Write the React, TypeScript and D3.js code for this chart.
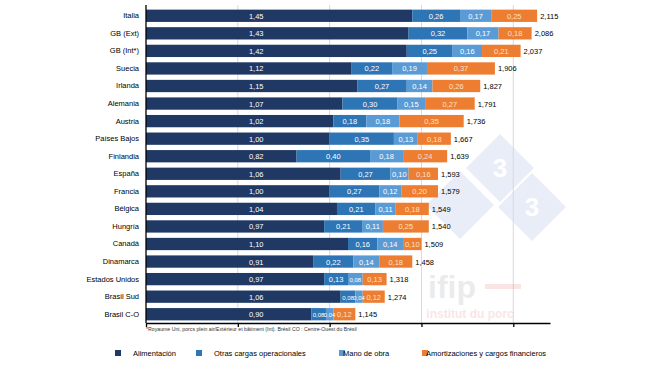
import * as d3 from "d3";
import { useEffect, useRef } from "react";

const countries = [
  "Italia", "GB (Ext)", "GB (Int*)", "Suecia", "Irlanda", "Alemania", "Austria",
  "Países Bajos", "Finlandia", "España", "Francia", "Bélgica", "Hungría", "Canadá",
  "Dinamarca", "Estados Unidos", "Brasil Sud", "Brasil C-O",
];
const alimentacion = [1.45, 1.43, 1.42, 1.12, 1.15, 1.07, 1.02, 1.0, 0.82, 1.06, 1.0, 1.04, 0.97, 1.1, 0.91, 0.97, 1.06, 0.9];
const otrasCargas = [0.26, 0.32, 0.25, 0.22, 0.27, 0.3, 0.18, 0.35, 0.4, 0.27, 0.27, 0.21, 0.21, 0.16, 0.22, 0.13, 0.08, 0.08];
const manoObra = [0.17, 0.17, 0.16, 0.19, 0.14, 0.15, 0.18, 0.13, 0.18, 0.1, 0.12, 0.11, 0.11, 0.14, 0.14, 0.08, 0.04, 0.04];
const amortizaciones = [0.25, 0.18, 0.21, 0.37, 0.26, 0.27, 0.35, 0.18, 0.24, 0.16, 0.2, 0.18, 0.25, 0.1, 0.18, 0.13, 0.12, 0.12];
const totals = [2.115, 2.086, 2.037, 1.906, 1.827, 1.791, 1.736, 1.667, 1.639, 1.593, 1.579, 1.549, 1.54, 1.509, 1.458, 1.318, 1.274, 1.145];
const seriesNames = ["Alimentación", "Otras cargas operacionales", "Mano de obra", "Amortizaciones y cargos financieros"];
const colors = ["#1f3864", "#2e75b6", "#5b9bd5", "#ed7d31"];
const xTicks = [0, 0.5, 1, 1.5, 2];

const FONT = "'Liberation Sans', Arial, sans-serif";

export default function App() {
  const ref = useRef<SVGSVGElement>(null);

  useEffect(() => {
    const svg = d3.select(ref.current);
    svg.selectAll("*").remove();

    const x = d3.scaleLinear().domain([0, 2.2]).range([146, 550]);
    const y = d3.scaleBand().domain(countries).range([7, 323]).paddingInner(0.3).paddingOuter(0.15);
    const comma = (v: number, d: number) => v.toFixed(d).replace(".", ",");

    // watermark (pale logo behind the chart)
    const wm = svg.append("g").attr("opacity", 0.2);
    [[460, 205, false], [500, 168, true], [532, 207, true]].forEach(([cx, cy, label]) => {
      wm.append("rect")
        .attr("x", +cx - 24).attr("y", +cy - 24).attr("width", 48).attr("height", 48)
        .attr("transform", `rotate(45 ${cx} ${cy})`)
        .attr("fill", "#8faadc");
      if (label)
        wm.append("text").attr("x", +cx).attr("y", +cy + 9).attr("text-anchor", "middle")
          .attr("font-family", FONT).attr("font-weight", "bold").attr("font-size", 26)
          .attr("fill", "#fff").text("3");
    });

    // gridlines
    svg.append("g").selectAll("line").data(xTicks.slice(1)).join("line")
      .attr("x1", (d) => x(d)).attr("x2", (d) => x(d))
      .attr("y1", 5).attr("y2", 323)
      .attr("stroke", "#d9d9d9").attr("stroke-width", 1);

    const wm2 = svg.append("g").attr("opacity", 0.22);
    wm2.append("text").attr("x", 452).attr("y", 298).attr("text-anchor", "middle")
      .attr("font-family", FONT).attr("font-weight", "bold").attr("font-size", 32)
      .attr("fill", "#a6a6a6").text("ifip");
    wm2.append("rect").attr("x", 485).attr("y", 284).attr("width", 36).attr("height", 5).attr("fill", "#e98a8a");
    wm2.append("text").attr("x", 470).attr("y", 318).attr("text-anchor", "middle")
      .attr("font-family", FONT).attr("font-weight", "bold").attr("font-size", 12)
      .attr("fill", "#e98a8a").text("institut du porc");

    const series = [alimentacion, otrasCargas, manoObra, amortizaciones];
    const rows = countries.map((c, i) => {
      let acc = 0;
      return series.map((s, k) => {
        const seg = { country: c, k, x0: acc, x1: acc + s[i], v: s[i] };
        acc += s[i];
        return seg;
      });
    });

    const barG = svg.append("g");
    rows.forEach((segs) => {
      barG.selectAll(null).data(segs).join("rect")
        .attr("x", (d) => x(d.x0))
        .attr("y", (d) => y(d.country)!)
        .attr("width", (d) => x(d.x1) - x(d.x0))
        .attr("height", y.bandwidth())
        .attr("fill", (d) => colors[d.k]);
      barG.selectAll(null).data(segs).join("text")
        .attr("x", (d) => (d.k === 0 ? x(0.6) : (x(d.x0) + x(d.x1)) / 2))
        .attr("y", (d) => y(d.country)! + y.bandwidth() / 2 + 3)
        .attr("text-anchor", "middle")
        .attr("font-family", FONT)
        .attr("font-size", (d) => (d.v < 0.1 ? 6 : 7.5))
        .attr("fill", (d) => (d.k === 3 ? "#fbe0cc" : "#ffffff"))
        .text((d) => comma(d.v, 2));
    });

    // totals
    svg.append("g").selectAll("text").data(countries).join("text")
      .attr("x", (c, i) => x(rows[i][3].x1) + 3)
      .attr("y", (c) => y(c)! + y.bandwidth() / 2 + 3)
      .attr("font-family", FONT).attr("font-size", 7.5).attr("fill", "#000")
      .text((c, i) => comma(totals[i], 3));

    // axes
    svg.append("g").attr("transform", "translate(0,323)")
      .call(d3.axisBottom(x).tickValues(xTicks).tickSize(4).tickFormat(() => "").tickSizeOuter(0))
      .call((g) => g.selectAll("line,path").attr("stroke", "#000").attr("stroke-width", 1.3));
    svg.append("g").attr("transform", "translate(146,0)")
      .call(d3.axisLeft(y).tickSize(0).tickPadding(7))
      .call((g) => g.select("path").attr("d", "M0,5V323").attr("stroke", "#000").attr("stroke-width", 1.3))
      .call((g) => g.selectAll("text").attr("font-family", FONT).attr("font-size", 7.5).attr("fill", "#000"));

    svg.append("text").attr("x", 146).attr("y", 331)
      .attr("font-family", FONT).attr("font-size", 5.2).attr("fill", "#333")
      .text("*Royaume Uni, porcs plein air/Extérieur et bâtiment (Int). Brésil CO : Centre-Ouest du Brésil");

    // legend
    const legendX = [115, 196, 339, 422];
    const lg = svg.append("g").selectAll("g").data(seriesNames).join("g")
      .attr("transform", (d, i) => `translate(${legendX[i]},350)`);
    lg.append("rect").attr("width", 6).attr("height", 6).attr("fill", (d, i) => colors[i]);
    lg.append("text").attr("x", (d, i) => (i >= 2 ? 4 : 18)).attr("y", 5.5)
      .attr("font-family", FONT).attr("font-size", 7.5).attr("fill", "#000")
      .text((d) => d);
  }, []);

  return (
    <div style={{ position: "fixed", left: 0, top: 0 }}>
      <svg ref={ref} width={650} height={366} style={{ display: "block", background: "#fff" }} />
    </div>
  );
}
